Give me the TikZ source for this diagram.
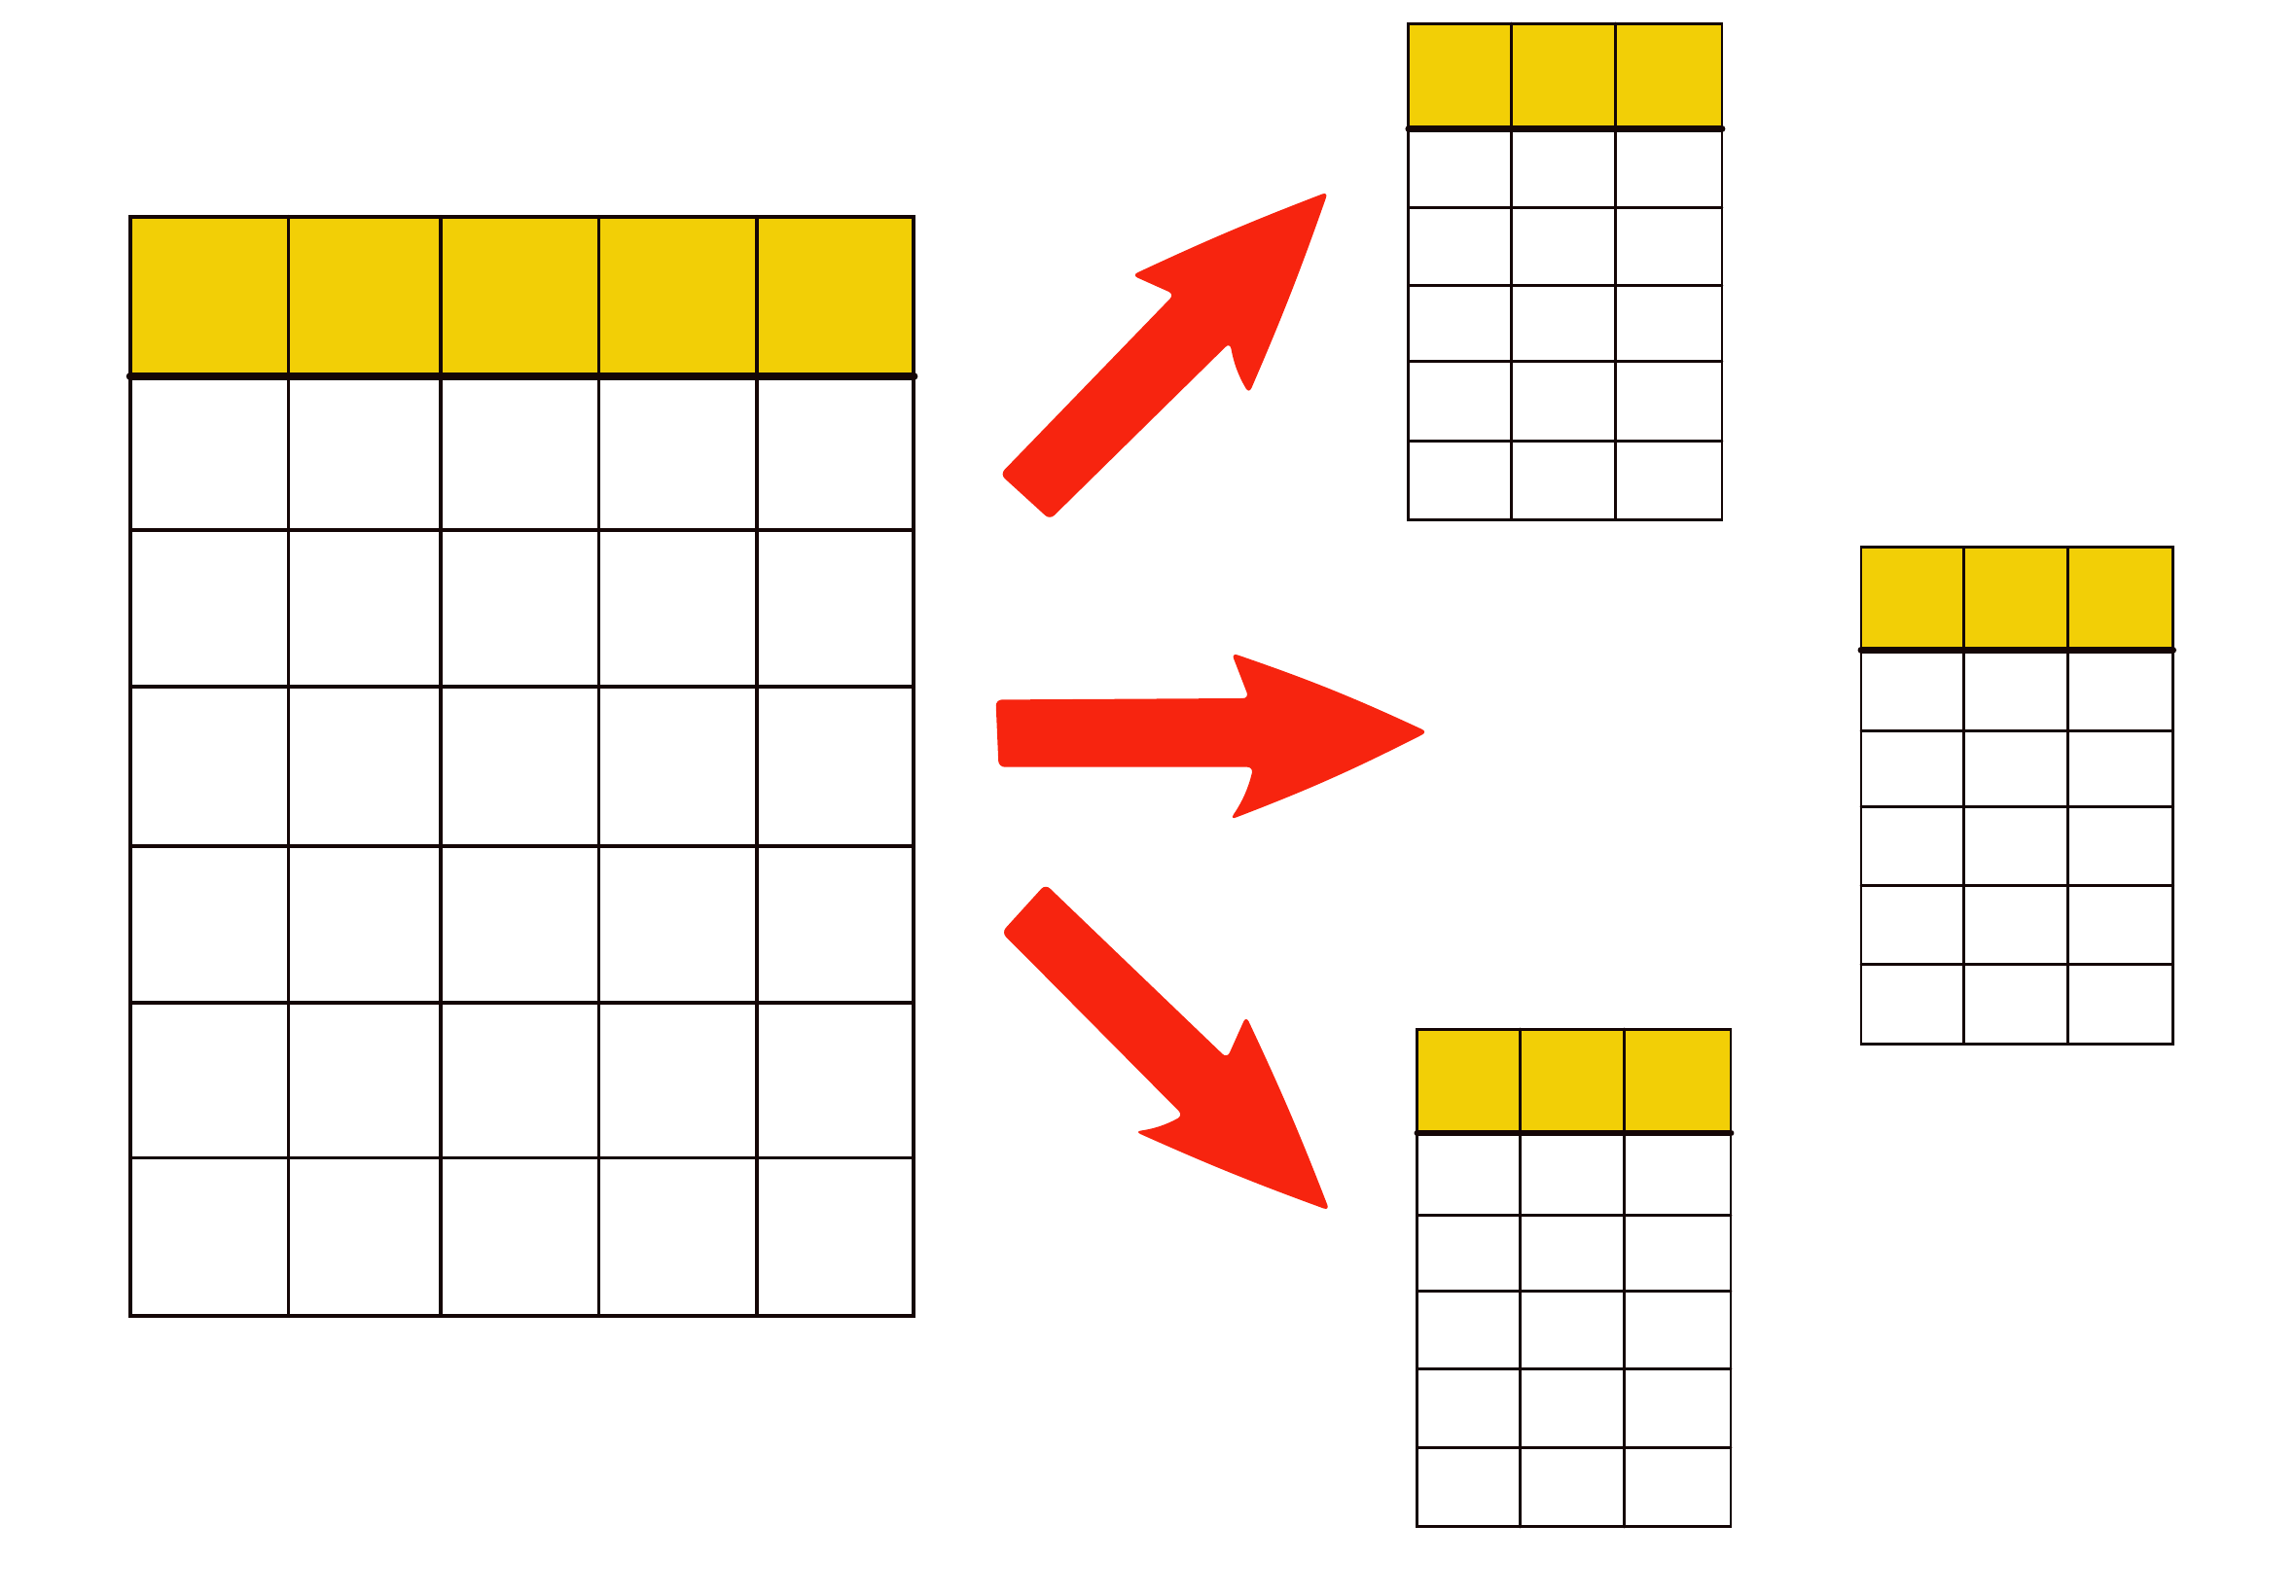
\documentclass[tikz,border=0pt]{standalone}
\definecolor{headyellow}{HTML}{F2CF06}
\definecolor{arrowred}{HTML}{F7240F}
\definecolor{ink}{HTML}{140606}
\tikzset{
  grid/.style={ink, line width=0.7pt, line cap=round},
  headline/.style={ink, line width=1.6pt, line cap=round},
  smallgrid/.style={ink, line width=0.55pt, line cap=round},
  smallhead/.style={ink, line width=1.3pt, line cap=round},
  bigarrow/.style={fill=arrowred, rounded corners=1.2pt}
}
\begin{document}
\begin{tikzpicture}[x=0.01cm, y=-0.01cm]
  \useasboundingbox (0,0) rectangle (1568,1090);
  % big table
  \fill[headyellow] (89,148) rectangle (624,257);
  \foreach \y in {362,469,578,685,791} \draw[grid] (89,\y) -- (624,\y);
  \foreach \x in {197,301,409,517} \draw[grid] (\x,148) -- (\x,899);
  \draw[grid, line width=0.8pt] (89,148) rectangle (624,899);
  \draw[headline] (89,257) -- (624,257);
  % top table
  \fill[headyellow] (962,16) rectangle (1176,88);
  \foreach \y in {142,195,247,301} \draw[smallgrid] (962,\y) -- (1176,\y);
  \foreach \x in {1032,1103} \draw[smallgrid] (\x,16) -- (\x,355);
  \draw[smallgrid] (962,16) rectangle (1176,355);
  \draw[smallhead] (962,88) -- (1176,88);
  % right table
  \fill[headyellow] (1271,374) rectangle (1484,444);
  \foreach \y in {499,551,605,659} \draw[smallgrid] (1271,\y) -- (1484,\y);
  \foreach \x in {1341,1412} \draw[smallgrid] (\x,374) -- (\x,713);
  \draw[smallgrid] (1271,374) rectangle (1484,713);
  \draw[smallhead] (1271,444) -- (1484,444);
  % bottom table
  \fill[headyellow] (968,703) rectangle (1182,774);
  \foreach \y in {830,882,935,989} \draw[smallgrid] (968,\y) -- (1182,\y);
  \foreach \x in {1038,1109} \draw[smallgrid] (\x,703) -- (\x,1043);
  \draw[smallgrid] (968,703) rectangle (1182,1043);
  \draw[smallhead] (968,774) -- (1182,774);
  % arrows
  \fill[bigarrow] (683,324) -- (802,201) -- (773,188) to[bend left=2] (907,131)
    to[bend left=2] (853,269) to[bend left=10] (840,234) -- (717,355) -- cycle;
  \fill[bigarrow] (680,478) -- (853,477) -- (841,446) to[bend left=3] (975,500)
    to[bend left=3] (840,560) to[bend right=10] (856,524) -- (682,524) -- cycle;
  \fill[bigarrow] (684,637) -- (714,604) -- (838,723) -- (851,694)
    to[bend left=2] (908,827) to[bend left=2] (775,773) to[bend right=10] (808,762)
    -- (697,650) -- cycle;
\end{tikzpicture}
\end{document}
